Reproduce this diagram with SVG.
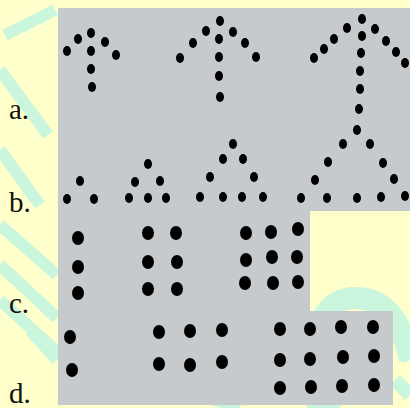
<svg xmlns="http://www.w3.org/2000/svg" width="410" height="408" viewBox="0 0 410 408">
<style>
.lbl{font-family:"Liberation Serif","Times New Roman",serif;font-size:29px;fill:#111}
.s ellipse{fill:#161616}
.wm{fill:none;stroke:#cbf6de;stroke-linecap:butt}
</style>
<defs>
<ellipse id="d" rx="4" ry="5"/>
<ellipse id="D" rx="6" ry="7"/>
</defs>
<rect width="410" height="408" fill="#ffffcc"/>
<g id="watermark">
<path class="wm" stroke-width="12" d="M5 35 L55 10 M0 70 L48 135 M0 150 L40 205 M0 225 L57 275 M0 265 L57 318 M0 300 L57 352 M30 330 L57 360 M215 400 L240 408 M320 400 L340 408"/>
<path class="wm" stroke-width="22" d="M318 408 L318 330 Q330 290 370 300 Q400 310 410 360"/>
<path class="wm" stroke-width="14" d="M395 330 L410 360 M395 380 L410 395"/>
</g>
<path id="photo" d="M58 8 H410 V211 H310 V311 H393 V405 H58 Z" fill="#c7cacd"/>
<g id="labels">
<text class="lbl" x="9" y="119">a.</text>
<text class="lbl" x="9" y="212">b.</text>
<text class="lbl" x="9" y="313">c.</text>
<text class="lbl" x="9" y="403">d.</text>
</g>
<g id="a" class="s">
<use href="#d" x="67" y="51"/><use href="#d" x="78" y="39"/><use href="#d" x="91" y="33"/><use href="#d" x="105" y="42"/><use href="#d" x="116" y="55"/>
<use href="#d" x="91" y="51"/><use href="#d" x="91" y="69"/><use href="#d" x="92" y="87"/>
<use href="#d" x="180" y="58"/><use href="#d" x="193" y="43"/><use href="#d" x="206" y="31"/><use href="#d" x="220" y="21"/><use href="#d" x="233" y="32"/><use href="#d" x="245" y="43"/><use href="#d" x="256" y="57"/>
<use href="#d" x="219" y="39"/><use href="#d" x="219" y="57"/><use href="#d" x="219" y="76"/><use href="#d" x="220" y="97"/>
<use href="#d" x="314" y="58"/><use href="#d" x="324" y="49"/><use href="#d" x="334" y="39"/><use href="#d" x="347" y="28"/><use href="#d" x="362" y="19"/><use href="#d" x="375" y="29"/><use href="#d" x="386" y="41"/><use href="#d" x="396" y="52"/><use href="#d" x="405" y="63"/>
<use href="#d" x="362" y="36"/><use href="#d" x="361" y="53"/><use href="#d" x="360" y="71"/><use href="#d" x="360" y="89"/><use href="#d" x="359" y="109"/><use href="#d" x="357" y="130"/>
</g>
<g id="b" class="s">
<use href="#d" x="67" y="199"/><use href="#d" x="80" y="181"/><use href="#d" x="94" y="199"/>
<use href="#d" x="148" y="164"/><use href="#d" x="135" y="182"/><use href="#d" x="160" y="181"/><use href="#d" x="129" y="198"/><use href="#d" x="148" y="198"/><use href="#d" x="166" y="198"/>
<use href="#d" x="233" y="144"/><use href="#d" x="223" y="159"/><use href="#d" x="243" y="159"/><use href="#d" x="210" y="177"/><use href="#d" x="254" y="177"/><use href="#d" x="200" y="197"/><use href="#d" x="223" y="197"/><use href="#d" x="242" y="197"/><use href="#d" x="263" y="197"/>
<use href="#d" x="343" y="144"/><use href="#d" x="370" y="144"/><use href="#d" x="328" y="162"/><use href="#d" x="383" y="163"/><use href="#d" x="315" y="180"/><use href="#d" x="394" y="179"/>
<use href="#d" x="301" y="198"/><use href="#d" x="327" y="198"/><use href="#d" x="357" y="198"/><use href="#d" x="381" y="197"/><use href="#d" x="405" y="196"/>
</g>
<g id="c" class="s">
<use href="#D" x="78" y="238"/><use href="#D" x="78" y="267"/><use href="#D" x="78" y="293"/>
<use href="#D" x="148" y="233"/><use href="#D" x="176" y="233"/><use href="#D" x="148" y="262"/><use href="#D" x="177" y="262"/><use href="#D" x="148" y="289"/><use href="#D" x="177" y="289"/>
<use href="#D" x="246" y="233"/><use href="#D" x="271" y="232"/><use href="#D" x="298" y="229"/><use href="#D" x="246" y="260"/><use href="#D" x="272" y="257"/><use href="#D" x="297" y="257"/><use href="#D" x="245" y="283"/><use href="#D" x="273" y="283"/><use href="#D" x="298" y="282"/>
</g>
<g id="dd" class="s">
<use href="#D" x="70" y="337"/><use href="#D" x="72" y="370"/>
<use href="#D" x="159" y="332"/><use href="#D" x="190" y="331"/><use href="#D" x="222" y="330"/><use href="#D" x="159" y="364"/><use href="#D" x="190" y="365"/><use href="#D" x="222" y="362"/>
<use href="#D" x="280" y="329"/><use href="#D" x="310" y="329"/><use href="#D" x="341" y="327"/><use href="#D" x="373" y="327"/>
<use href="#D" x="280" y="360"/><use href="#D" x="310" y="359"/><use href="#D" x="343" y="357"/><use href="#D" x="374" y="356"/>
<use href="#D" x="280" y="388"/><use href="#D" x="311" y="387"/><use href="#D" x="342" y="386"/><use href="#D" x="374" y="385"/>
</g>
</svg>
